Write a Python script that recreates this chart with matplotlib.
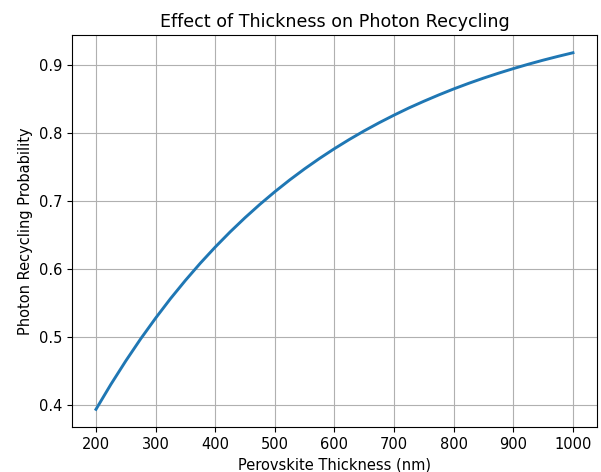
import numpy as np
import matplotlib.pyplot as plt

# values
thickness_nm = [200, 225, 250, 275, 300, 325, 350, 375, 400, 425, 450, 475,
                500, 525, 550, 575, 600, 625, 650, 675, 700, 725, 750, 775,
                800, 825, 850, 875, 900, 925, 950, 975, 1000]
recycling_prob = [0.3935, 0.4302, 0.4647, 0.4972, 0.5276, 0.5563, 0.5831, 0.6084,
                  0.6321, 0.6544, 0.6753, 0.6950, 0.7135, 0.7309, 0.7472, 0.7625,
                  0.7769, 0.7904, 0.8031, 0.8150, 0.8262, 0.8368, 0.8466, 0.8559,
                  0.8647, 0.8729, 0.8806, 0.8878, 0.8946, 0.9010, 0.9070, 0.9126,
                  0.9179]


def main():
    plt.rcParams['font.size'] = 10.5
    fig = plt.figure(figsize=(6.01, 4.72), dpi=100)
    ax = fig.add_axes([0.12, 0.095, 0.873, 0.831])

    ax.plot(thickness_nm, recycling_prob, linewidth=2.1)
    ax.set_title("Effect of Thickness on Photon Recycling", fontsize=12.6)
    ax.set_xlabel("Perovskite Thickness (nm)")
    ax.set_ylabel("Photon Recycling Probability")
    ax.grid(True)

    fig.savefig("out.png", dpi=100)


if __name__ == "__main__":
    main()
